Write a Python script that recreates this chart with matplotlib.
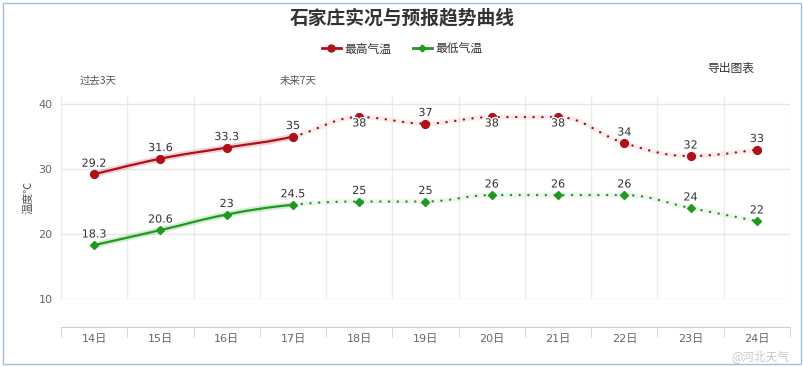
import matplotlib
matplotlib.use("Agg")
import matplotlib.pyplot as plt
from matplotlib.path import Path
from matplotlib.patches import PathPatch, Rectangle
from matplotlib.lines import Line2D
import matplotlib.patheffects as pe

plt.rcParams['font.family'] = ['DejaVu Sans', 'Noto Sans CJK SC']

days = ['14日', '15日', '16日', '17日', '18日', '19日', '20日', '21日', '22日', '23日', '24日']
gao = [29.2, 31.6, 33.3, 35, 38, 37, 38, 38, 34, 32, 33]
di = [18.3, 20.6, 23, 24.5, 25, 25, 26, 26, 26, 24, 22]
n_past = 4  # 14-17 实况

RED = '#b0101a'
GREEN = '#1f991f'


def spline_segments(xs, ys, smoothing=1.5):
    # highcharts style spline, control points per point
    n = len(xs)
    lc = [(xs[i], ys[i]) for i in range(n)]
    rc = [(xs[i], ys[i]) for i in range(n)]
    for i in range(1, n - 1):
        x, y = xs[i], ys[i]
        lx, ly = xs[i - 1], ys[i - 1]
        nx, ny = xs[i + 1], ys[i + 1]
        d = smoothing + 1
        lcx = (smoothing * x + lx) / d
        lcy = (smoothing * y + ly) / d
        rcx = (smoothing * x + nx) / d
        rcy = (smoothing * y + ny) / d
        corr = (rcy - lcy) * (rcx - x) / (rcx - lcx) + y - rcy
        lcy += corr
        rcy += corr
        if lcy > ly and lcy > y:
            lcy = max(ly, y)
            rcy = 2 * y - lcy
        elif lcy < ly and lcy < y:
            lcy = min(ly, y)
            rcy = 2 * y - lcy
        if rcy > ny and rcy > y:
            rcy = max(ny, y)
            lcy = 2 * y - rcy
        elif rcy < ny and rcy < y:
            rcy = min(ny, y)
            lcy = 2 * y - rcy
        lc[i] = (lcx, lcy)
        rc[i] = (rcx, rcy)
    segs = []
    for i in range(1, n):
        segs.append([(xs[i - 1], ys[i - 1]), rc[i - 1], lc[i], (xs[i], ys[i])])
    return segs


def make_path(segs):
    verts = [segs[0][0]]
    codes = [Path.MOVETO]
    for s in segs:
        verts += [s[1], s[2], s[3]]
        codes += [Path.CURVE4] * 3
    return Path(verts, codes)


fig = plt.figure(figsize=(8.04, 3.67), dpi=100)
W, H = 804, 367
ax = fig.add_axes([61 / W, 1 - 299 / H, (790 - 61) / W, (299 - 95) / H])

xs = list(range(len(days)))
ax.set_xlim(-0.5, len(days) - 0.5)
ax.set_ylim(10, 41.4)

for vals, color, marker, ms in [(gao, RED, 'o', 5.6), (di, GREEN, 'D', 3.8)]:
    segs = spline_segments(xs, vals)
    p_solid = make_path(segs[:n_past - 1])
    p_dot = make_path(segs[n_past - 1:])
    ax.add_patch(PathPatch(p_solid, fill=False, edgecolor=color, lw=4.5, alpha=0.18, zorder=2))
    ax.add_patch(PathPatch(p_solid, fill=False, edgecolor=color, lw=1.6, zorder=3,
                           capstyle='round'))
    ax.add_patch(PathPatch(p_dot, fill=False, edgecolor=color, lw=3.5, alpha=0.08, zorder=2))
    ax.add_patch(PathPatch(p_dot, fill=False, edgecolor=color, lw=1.7, zorder=3,
                           linestyle=(0, (0.1, 3.6)), capstyle='round'))
    ax.plot(xs, vals, linestyle='none', marker=marker, ms=ms, color=color, zorder=4)
    for x, v in zip(xs, vals):
        txt = ('%g' % v)
        if v >= 38:
            off, va = -1, 'top'
        else:
            off, va = 4, 'bottom'
        ax.annotate(txt, (x, v), xytext=(0, off), textcoords='offset points',
                    ha='center', va=va, fontsize=8, color='#333333', zorder=5,
                    path_effects=[pe.withStroke(linewidth=2, foreground='white')])

# grid
ax.set_yticks([10, 20, 30, 40])
ax.set_xticks(xs)
ax.set_xticks([x - 0.5 for x in xs] + [len(days) - 0.5], minor=True)
ax.grid(axis='y', which='major', color='#e6e6e6', lw=1)
ax.grid(axis='x', which='minor', color='#ececec', lw=1)
ax.set_axisbelow(True)
for s in ['top', 'right', 'left']:
    ax.spines[s].set_visible(False)
ax.spines['bottom'].set_position(('outward', 20.5))
ax.spines['bottom'].set_color('#c8d2e0')
ax.tick_params(axis='y', length=0, pad=6, labelsize=8, labelcolor='#666666')
ax.tick_params(axis='x', which='major', length=0, pad=5, labelsize=8, labelcolor='#666666')
ax.tick_params(axis='x', which='minor', length=7.5, direction='out', color='#c8d2e0')
ax.set_xticklabels(days, family=['DejaVu Sans', 'Noto Sans CJK SC'])
ax.set_ylabel('温度℃', fontsize=8, color='#555555', labelpad=4,
              family=['Noto Sans CJK SC', 'DejaVu Sans'])

# texts
fig.text(402 / W, 1 - 18 / H, '石家庄实况与预报趋势曲线', ha='center', va='center', fontsize=13.5,
         fontweight='bold', color='#333333', family=['Noto Sans CJK SC'])
fig.text(98 / W, 1 - 81 / H, '过去3天', ha='center', va='center', fontsize=7.5,
         color='#555555', family=['Noto Sans CJK SC', 'DejaVu Sans'])
fig.text(298 / W, 1 - 81 / H, '未来7天', ha='center', va='center', fontsize=7.5,
         color='#555555', family=['Noto Sans CJK SC', 'DejaVu Sans'])
fig.text(731 / W, 1 - 68 / H, '导出图表', ha='center', va='center', fontsize=8.5,
         color='#333333', family=['Noto Sans CJK SC'])
fig.text(760 / W, 1 - 357 / H, '@河北天气', ha='center', va='center', fontsize=8.5,
         color='#bbbbbb', alpha=0.8, family=['Noto Sans CJK SC'])

handles = [Line2D([], [], color=RED, lw=2, marker='o', ms=5),
           Line2D([], [], color=GREEN, lw=2, marker='D', ms=3.5)]
fig.legend(handles, ['最高气温', '最低气温'], loc='center', bbox_to_anchor=(402 / W, 1 - 49 / H),
           ncol=2, frameon=False, handlelength=1.6, handletextpad=0.3, columnspacing=1.8,
           prop={'family': ['Noto Sans CJK SC'], 'size': 8.5}, labelcolor='#333333')

fig.patches.append(Rectangle((3 / W, 3 / H), 798 / W, 361 / H, transform=fig.transFigure,
                             fill=False, edgecolor='#9cc3d8', lw=1))

fig.savefig('out.png', dpi=100, facecolor='white')
